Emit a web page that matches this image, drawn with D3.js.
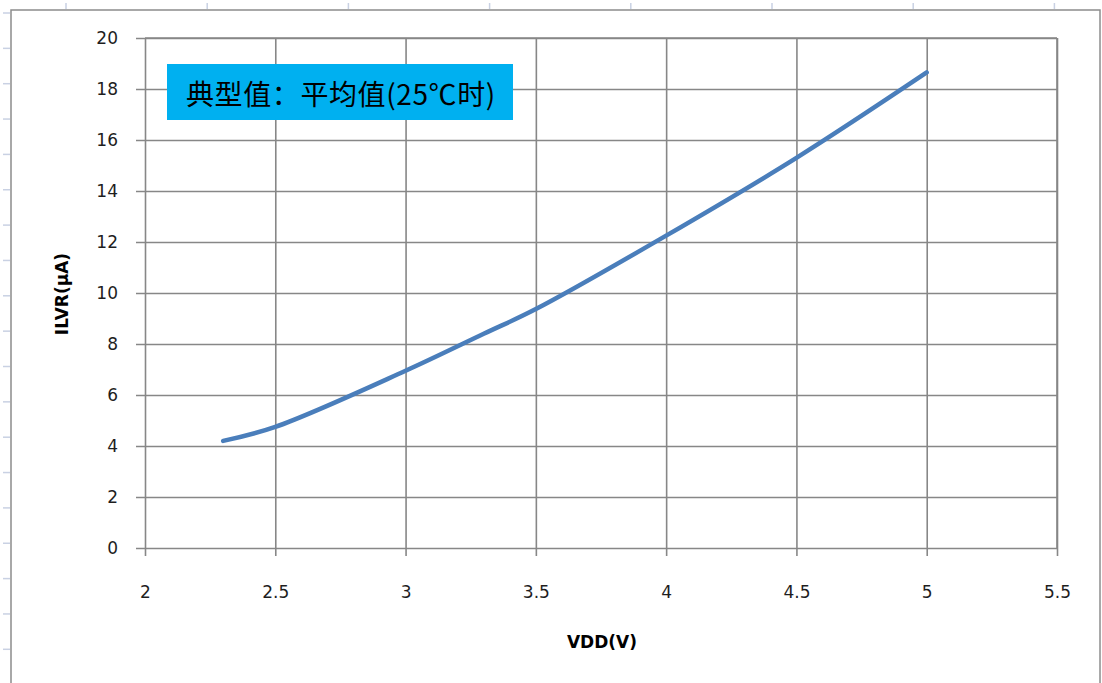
<!DOCTYPE html>
<html>
<head>
<meta charset="utf-8">
<script src="https://cdn.jsdelivr.net/npm/d3@7"></script>
<style>
  html, body { margin: 0; padding: 0; background: #ffffff; }
  svg { display: block; }
</style>
</head>
<body>
<svg id="chart" width="1102" height="683"></svg>
<script>
// ---- data ----
const vdd = [2.3, 2.5, 3.0, 3.3, 3.5, 4.0, 4.5, 5.0];
const ilvr = [4.2, 4.75, 6.95, 8.4, 9.37, 12.25, 15.3, 18.65];
const xTicks = [2, 2.5, 3, 3.5, 4, 4.5, 5, 5.5];
const yTicks = [0, 2, 4, 6, 8, 10, 12, 14, 16, 18, 20];
const xTitle = "VDD(V)";
const yTitle = "ILVR(μA)";
const noteText = "典型值：平均值(25℃时)";

const svg = d3.select("#chart");
const W = 1102, H = 683;
const plot = { left: 145, right: 1057, top: 38, bottom: 548 };

const x = d3.scaleLinear().domain([2, 5.5]).range([plot.left, plot.right]);
const y = d3.scaleLinear().domain([0, 20]).range([plot.bottom, plot.top]);

// spreadsheet row/column marks outside the chart frame
const markColor = "#c9d1e3";
const rowMarks = d3.range(13, H, 35.35);
svg.append("g").selectAll("line").data(rowMarks).join("line")
  .attr("x1", 3).attr("x2", 10).attr("y1", d => d).attr("y2", d => d)
  .attr("stroke", markColor).attr("stroke-width", 1.5);
const colMarks = d3.range(66, W, 141.2);
svg.append("g").selectAll("line").data(colMarks).join("line")
  .attr("x1", d => d).attr("x2", d => d).attr("y1", 3).attr("y2", 9)
  .attr("stroke", markColor).attr("stroke-width", 1.5);

// chart frame
svg.append("rect")
  .attr("x", 11).attr("y", 10).attr("width", 1089).attr("height", 700)
  .attr("fill", "#ffffff").attr("stroke", "#8c8c8c").attr("stroke-width", 1.5);

const gridColor = "#878787";
// horizontal gridlines + y axis
const yAxis = d3.axisLeft(y).tickValues(yTicks).tickSize(plot.right - plot.left + 9).tickPadding(18)
  .tickFormat(d3.format("d"));
const gy = svg.append("g").attr("transform", `translate(${plot.right},0)`).call(yAxis);
gy.select(".domain").remove();
gy.selectAll(".tick line").attr("stroke", gridColor).attr("stroke-width", 1.6);
gy.selectAll(".tick text")
  .attr("font-family", "DejaVu Sans, Verdana, sans-serif").attr("font-size", 17)
  .attr("fill", "#1e1e1e");

// vertical gridlines + x axis
const xAxis = d3.axisBottom(x).tickValues(xTicks).tickSize(plot.bottom - plot.top + 8).tickPadding(30)
  .tickFormat(d => String(d));
const gx = svg.append("g").attr("transform", `translate(0,${plot.top})`).call(xAxis);
gx.select(".domain").remove();
gx.selectAll(".tick line").attr("stroke", gridColor).attr("stroke-width", 1.6);
gx.selectAll(".tick text")
  .attr("font-family", "DejaVu Sans, Verdana, sans-serif").attr("font-size", 17)
  .attr("fill", "#1e1e1e");

// plot area border
svg.append("line").attr("x1", plot.left).attr("x2", plot.right).attr("y1", plot.top).attr("y2", plot.top)
  .attr("stroke", gridColor).attr("stroke-width", 1.6);
svg.append("line").attr("x1", plot.right).attr("x2", plot.right).attr("y1", plot.top).attr("y2", plot.bottom)
  .attr("stroke", gridColor).attr("stroke-width", 1.6);

// data line
const pts = vdd.map((v, i) => [v, ilvr[i]]);
svg.append("path")
  .datum(pts)
  .attr("d", d3.line().x(d => x(d[0])).y(d => y(d[1])).curve(d3.curveCatmullRom.alpha(0.5)))
  .attr("fill", "none").attr("stroke", "#4a7ebb").attr("stroke-width", 4.5)
  .attr("stroke-linecap", "round").attr("stroke-linejoin", "round");

// note box
svg.append("rect").attr("x", 167).attr("y", 64).attr("width", 346).attr("height", 56).attr("fill", "#00b0f0");
svg.append("text").attr("x", 186).attr("y", 93)
  .attr("dominant-baseline", "central")
  .attr("font-family", "'Noto Sans CJK SC', sans-serif").attr("font-size", 28)
  .attr("letter-spacing", 0.6)
  .attr("fill", "#000").text(noteText);

// axis titles
svg.append("text").attr("x", 602).attr("y", 642)
  .attr("text-anchor", "middle").attr("dominant-baseline", "central")
  .attr("font-family", "DejaVu Sans, Verdana, sans-serif").attr("font-weight", "bold").attr("font-size", 17)
  .attr("fill", "#000").text(xTitle);
svg.append("text")
  .attr("transform", "translate(62,294) rotate(-90)")
  .attr("text-anchor", "middle").attr("dominant-baseline", "central")
  .attr("font-family", "DejaVu Sans, Verdana, sans-serif").attr("font-weight", "bold").attr("font-size", 17)
  .attr("fill", "#000").text(yTitle);
</script>
</body>
</html>
